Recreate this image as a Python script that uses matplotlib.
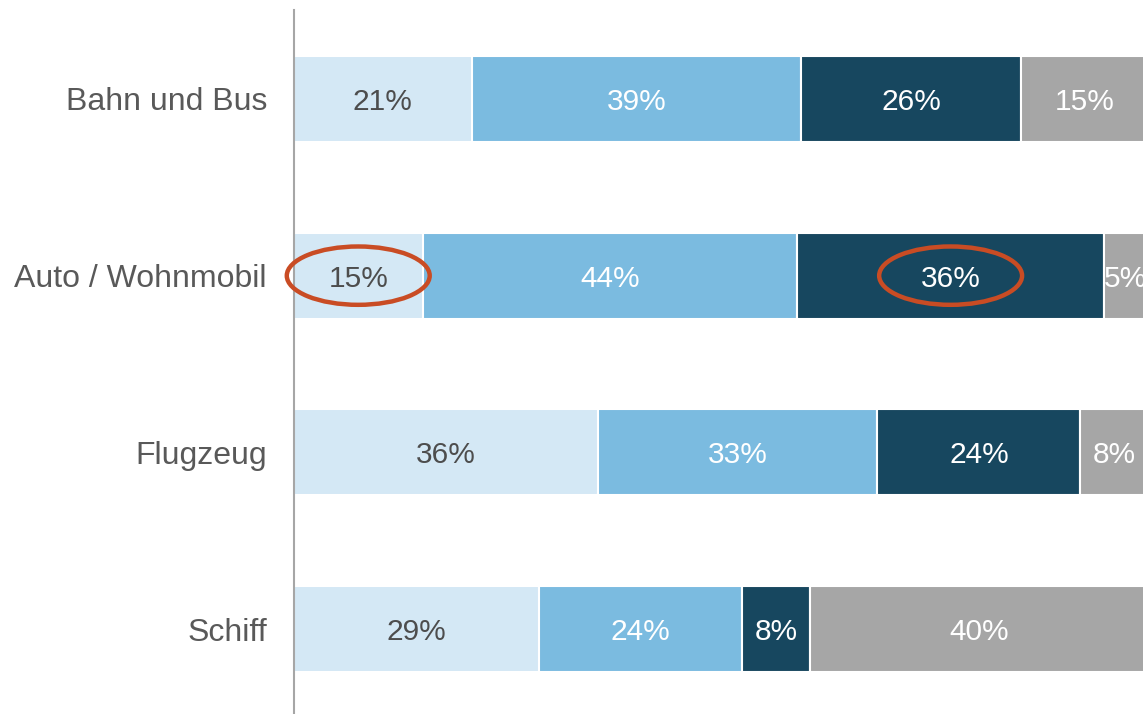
import numpy as np
import matplotlib.pyplot as plt
from matplotlib.patches import Ellipse

plt.rcParams['font.family'] = ['Liberation Sans', 'DejaVu Sans']

# data (shares in %, labels are the rounded values)
categories = ['Bahn und Bus', 'Auto / Wohnmobil', 'Flugzeug', 'Schiff']
seg1 = [21, 15.2, 36, 29]
seg2 = [39, 44.3, 33, 24]
seg3 = [26, 36.3, 24, 8]
seg4 = [15, 5, 8, 40]
series = [seg1, seg2, seg3, seg4]

colors = ['#D4E8F5', '#7BBBE0', '#17475F', '#A6A6A6']
text_colors = ['#4D4D4D', 'white', 'white', 'white']

# which cells get a red ellipse: (row, segment)
highlight = [(1, 0), (1, 2)]

fig = plt.figure(figsize=(11.43, 7.14), dpi=100)
ax = fig.add_axes([0.2572, 0.0, 0.7428, 0.986])

y = np.arange(len(categories))
left = np.zeros(len(categories))
for i, vals in enumerate(series):
    vals = np.array(vals, dtype=float)
    ax.barh(y, vals, left=left, height=0.486, color=colors[i],
            edgecolor='white', linewidth=1.5)
    for j, v in enumerate(vals):
        ax.text(left[j] + v / 2, y[j], f'{v:.0f}%', ha='center',
                va='center_baseline', fontsize=21.5, color=text_colors[i])
    left += vals

# red ellipses
for row, seg in highlight:
    start = sum(series[k][row] for k in range(seg))
    cx = start + series[seg][row] / 2
    ax.add_patch(Ellipse((cx, row), 16.9, 0.33, fill=False, clip_on=False,
                         edgecolor='#C94C24', linewidth=3.2, zorder=5))

ax.set_xlim(0, 100.4)
ax.set_ylim(3.48, -0.503)
ax.set_yticks(y)
ax.set_yticklabels(categories, fontsize=23, color='#595959')
ax.tick_params(axis='y', length=0, pad=19.5)
ax.set_xticks([])
for s in ['top', 'right', 'bottom']:
    ax.spines[s].set_visible(False)
ax.spines['left'].set_color('#A6A6A6')
ax.spines['left'].set_linewidth(1.5)

fig.savefig('out.png', dpi=100)
